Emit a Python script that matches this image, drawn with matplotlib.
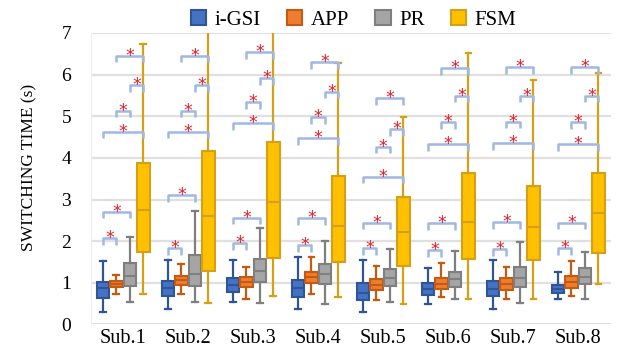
import matplotlib
matplotlib.use("Agg")
import matplotlib.pyplot as plt
from matplotlib.patches import Patch

subjects = ["Sub.1", "Sub.2", "Sub.3", "Sub.4", "Sub.5", "Sub.6", "Sub.7", "Sub.8"]
methods = ["i-GSI", "APP", "PR", "FSM"]

# box stats per method: whisker low, q1, median, q3, whisker high (one value per subject)
igsi_lo  = [0.30, 0.36, 0.54, 0.38, 0.30, 0.49, 0.36, 0.62]
igsi_q1  = [0.64, 0.68, 0.77, 0.65, 0.58, 0.70, 0.69, 0.75]
igsi_med = [0.88, 0.88, 0.94, 0.88, 0.76, 0.86, 0.85, 0.85]
igsi_q3  = [1.02, 1.05, 1.11, 1.06, 0.99, 0.99, 1.05, 0.94]
igsi_hi  = [1.52, 1.55, 1.55, 1.63, 1.55, 1.35, 1.55, 1.25]

app_lo  = [0.74, 0.74, 0.60, 0.72, 0.58, 0.66, 0.62, 0.69]
app_q1  = [0.89, 0.94, 0.89, 0.99, 0.82, 0.84, 0.82, 0.88]
app_med = [0.97, 1.06, 1.01, 1.13, 0.94, 0.97, 0.97, 1.01]
app_q3  = [1.05, 1.16, 1.13, 1.25, 1.08, 1.11, 1.11, 1.16]
app_hi  = [1.18, 1.44, 1.38, 1.63, 1.40, 1.47, 1.37, 1.52]

pr_lo  = [0.53, 0.53, 0.52, 0.49, 0.53, 0.60, 0.52, 0.62]
pr_q1  = [0.92, 0.93, 1.02, 0.96, 0.92, 0.90, 0.90, 0.97]
pr_med = [1.16, 1.22, 1.28, 1.20, 1.11, 1.08, 1.11, 1.14]
pr_q3  = [1.48, 1.67, 1.57, 1.44, 1.32, 1.25, 1.38, 1.35]
pr_hi  = [2.11, 2.73, 2.31, 2.01, 1.81, 1.76, 1.99, 1.73]

fsm_lo  = [0.72, 0.52, 0.69, 0.66, 0.50, 0.60, 0.60, 0.97]
fsm_q1  = [1.73, 1.28, 1.60, 1.49, 1.40, 1.56, 1.55, 1.71]
fsm_med = [2.75, 2.60, 2.93, 2.36, 2.23, 2.47, 2.35, 2.68]
fsm_q3  = [3.87, 4.17, 4.37, 3.56, 3.07, 3.63, 3.32, 3.64]
fsm_hi  = [6.74, 7.60, 7.60, 6.27, 4.97, 6.51, 5.86, 6.03]

# significance bracket heights per subject (pair of methods by index)
pairs = [(0, 1), (0, 2), (0, 3), (1, 2), (2, 3), (1, 3)]
sig_iA = [2.07, 1.83, 1.95, 1.91, 1.83, 1.79, 1.80, 1.83]
sig_iP = [2.71, 3.11, 2.56, 2.55, 2.44, 2.43, 2.45, 2.44]
sig_iF = [4.63, 4.63, 4.83, 4.47, 3.55, 4.33, 4.35, 4.33]
sig_AP = [5.13, 5.13, 5.33, 4.97, 4.27, 4.85, 4.87, 4.85]
sig_PF = [5.75, 5.75, 5.91, 5.59, 4.69, 5.49, 5.49, 5.49]
sig_AF = [6.45, 6.45, 6.53, 6.29, 5.43, 6.15, 6.18, 6.18]

fills = ["#4472C4", "#ED7D31", "#A5A5A5", "#FFC000"]
edges = ["#2F5597", "#C55A11", "#7F7F7F", "#D4A017"]

stats_all = [
    (igsi_lo, igsi_q1, igsi_med, igsi_q3, igsi_hi),
    (app_lo, app_q1, app_med, app_q3, app_hi),
    (pr_lo, pr_q1, pr_med, pr_q3, pr_hi),
    (fsm_lo, fsm_q1, fsm_med, fsm_q3, fsm_hi),
]

plt.rcParams["font.family"] = ["Liberation Serif", "DejaVu Serif"]

fig = plt.figure(figsize=(6.17, 3.5), dpi=100)
ax = fig.add_axes([0.147, 0.073, 0.843, 0.833])

offsets = [-0.31, -0.105, 0.105, 0.31]
width = 0.19

for m in range(4):
    lo, q1, med, q3, hi = stats_all[m]
    bstats = []
    for i in range(len(subjects)):
        bstats.append({"whislo": lo[i], "q1": q1[i], "med": med[i],
                       "q3": q3[i], "whishi": hi[i], "fliers": []})
    pos = [i + offsets[m] for i in range(len(subjects))]
    ax.bxp(bstats, positions=pos, widths=width, patch_artist=True,
           showfliers=False, capwidths=0.09,
           boxprops=dict(facecolor=fills[m], edgecolor=edges[m], linewidth=1.5),
           medianprops=dict(color=edges[m], linewidth=1.5),
           whiskerprops=dict(color=edges[m], linewidth=1.6),
           capprops=dict(color=edges[m], linewidth=1.6),
           zorder=3)

sig_all = [sig_iA, sig_iP, sig_iF, sig_AP, sig_PF, sig_AF]
for p, (a, b) in enumerate(pairs):
    for i in range(len(subjects)):
        h = sig_all[p][i]
        x1 = i + offsets[a]
        x2 = i + offsets[b]
        ax.plot([x1, x1, x2, x2], [h - 0.16, h, h, h - 0.16],
                color="#9FB8E4", linewidth=1.8, zorder=4, solid_capstyle="butt")
        ax.text((x1 + x2) / 2, h + 0.0, "*", color="#E0202A", fontsize=12.5,
                ha="center", va="center", family="DejaVu Sans", zorder=5)

ax.set_xlim(-0.5, len(subjects) - 0.5)
ax.set_ylim(0, 7)
ax.set_xticks(range(len(subjects)))
ax.set_xticklabels(subjects, fontsize=14.5)
ax.set_yticks(range(0, 8))
ax.tick_params(axis="y", labelsize=14, length=0, pad=14)
ax.tick_params(axis="x", length=0, pad=3)
ax.yaxis.grid(True, color="#E0E0E0", linewidth=1.6, zorder=0)
ax.set_axisbelow(True)
for s in ["top", "right", "bottom"]:
    ax.spines[s].set_visible(False)
ax.spines["left"].set_color("#EDEDED")
ax.set_ylabel("SWITCHING TIME (s)", fontsize=12.5)
ax.yaxis.set_label_coords(-0.103, 0.54)

handles = [Patch(facecolor=fills[m], edgecolor=edges[m], linewidth=1.5) for m in range(4)]
fig.legend(handles, methods, loc="upper center", bbox_to_anchor=(0.573, 1.025), ncol=4,
           frameon=False, fontsize=15, handlelength=0.75, handleheight=0.75,
           handletextpad=0.4, columnspacing=1.25)

fig.savefig("out.png", dpi=100)
